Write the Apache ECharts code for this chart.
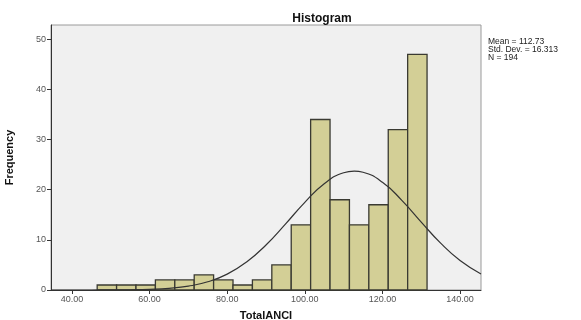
<!DOCTYPE html>
<html>
<head>
<meta charset="utf-8">
<script src="https://cdn.jsdelivr.net/npm/echarts@6/dist/echarts.min.js"></script>
<style>html,body{margin:0;padding:0;background:#fff}#c{width:581px;height:320px}</style>
</head>
<body>
<div id="c"></div>
<script>
// Histogram bins (lower edge, width) and frequencies
var binStart = 46.5;
var binWidth = 5;
var counts = [1, 1, 1, 2, 2, 3, 2, 1, 2, 5, 13, 34, 18, 13, 17, 32, 47];
// Normal curve points
var curveX = [34.6, 40, 45, 50, 55, 60, 65, 70, 75, 80, 85, 90, 95, 100, 105, 110, 112.73, 115, 120, 125, 130, 135, 140, 145.4];
var curveY = [0.0, 0.001, 0.004, 0.015, 0.045, 0.13, 0.33, 0.77, 1.64, 3.17, 5.59, 8.98, 13.14, 17.49, 21.2, 23.39, 23.72, 23.49, 21.48, 17.88, 13.55, 9.34, 5.87, 3.2];
var xTicks = [40, 60, 80, 100, 120, 140];
var yTicks = [0, 10, 20, 30, 40, 50];
var statsLines = ['Mean = 112.73', 'Std. Dev. = 16.313', 'N = 194'];

var barData = counts.map(function (c, i) {
  return [binStart + i * binWidth, binStart + (i + 1) * binWidth, c];
});
var curveData = curveX.map(function (x, i) { return [x, curveY[i]]; });

var chart = echarts.init(document.getElementById('c'), null, {renderer: 'canvas'});
chart.setOption({
  animation: false,
  backgroundColor: '#ffffff',
  title: {
    text: 'Histogram',
    left: 317, top: 8, textAlign: 'center',
    textStyle: {fontFamily: 'Liberation Sans', fontSize: 12, fontWeight: 'bold', color: '#111'}
  },
  graphic: [{
    type: 'text', left: 488, top: 37,
    style: {text: statsLines.join('\n'), font: '8.5px "Liberation Sans"', fill: '#222', lineHeight: 8}
  }],
  grid: {left: 51, right: 100, top: 25, bottom: 30, containLabel: false, outerBoundsMode: 'none',
    show: true, backgroundColor: '#f0f0f0', borderColor: '#9a9a9a', borderWidth: 1},
  xAxis: {
    type: 'value', min: 34.6, max: 145.4,
    name: 'TotalANCI', nameLocation: 'middle', nameGap: 20,
    nameTextStyle: {fontFamily: 'Liberation Sans', fontSize: 11, fontWeight: 'bold', color: '#111'},
    axisLine: {show: true, lineStyle: {color: '#333', width: 1}},
    axisTick: {show: true, length: 4, customValues: xTicks, lineStyle: {color: '#333'}},
    axisLabel: {customValues: xTicks, margin: 5, fontFamily: 'Liberation Sans', fontSize: 9, color: '#555',
      formatter: function (v) { return v.toFixed(2); }},
    splitLine: {show: false}
  },
  yAxis: {
    type: 'value', min: 0, max: 52.85,
    name: 'Frequency', nameLocation: 'middle', nameGap: 36,
    nameTextStyle: {fontFamily: 'Liberation Sans', fontSize: 11, fontWeight: 'bold', color: '#111'},
    axisLine: {show: true, lineStyle: {color: '#333', width: 1}},
    axisTick: {show: true, length: 4, customValues: yTicks, lineStyle: {color: '#333'}},
    axisLabel: {customValues: yTicks, margin: 5, fontFamily: 'Liberation Sans', fontSize: 9, color: '#555'},
    splitLine: {show: false}
  },
  series: [{
    type: 'custom',
    data: barData,
    encode: {x: [0, 1], y: 2},
    renderItem: function (params, api) {
      var p0 = api.coord([api.value(0), 0]);
      var p1 = api.coord([api.value(1), api.value(2)]);
      return {
        type: 'rect',
        shape: {x: p0[0], y: p1[1], width: p1[0] - p0[0], height: p0[1] - p1[1]},
        style: {fill: '#d3cf96', stroke: '#3a3a32', lineWidth: 1.3}
      };
    }
  }, {
    type: 'line',
    data: curveData,
    smooth: true,
    showSymbol: false,
    symbol: 'none',
    lineStyle: {color: '#333', width: 1.2},
    z: 5
  }]
});
</script>
</body>
</html>
